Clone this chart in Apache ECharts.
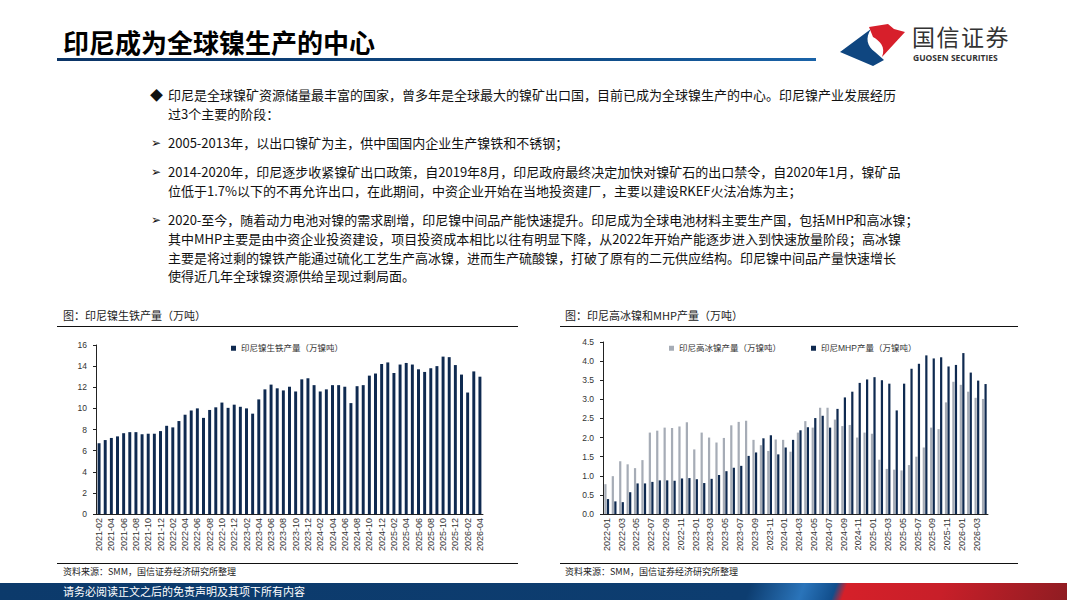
<!DOCTYPE html>
<html>
<head>
<meta charset="utf-8">
<script src="https://cdn.jsdelivr.net/npm/echarts@6/dist/echarts.min.js"></script>
<style>
  html, body { margin:0; padding:0; background:#fff; }
  #page { position:relative; width:1067px; height:600px; overflow:hidden; background:#fff;
          font-family:"Noto Sans CJK SC", sans-serif; color:#111; }
  #chart { position:absolute; left:0; top:0; width:1067px; height:600px; }
  .abs { position:absolute; white-space:nowrap; }
  .body { font-size:13px; line-height:18px; color:#111; }
  .title { left:63px; top:26px; font-size:26px; font-weight:bold; line-height:32px; color:#000; }
  .ctitle { font-size:11px; line-height:14px; color:#222; }
  .src { font-size:9px; line-height:12px; color:#222; }
  .hline { position:absolute; height:1px; background:#111; }
  .arrow { font-family:'DejaVu Sans',sans-serif; font-size:12px; }
</style>
</head>
<body>
<div id="page">
  <div id="chart"></div>

  <div class="abs title">印尼成为全球镍生产的中心</div>
  <div style="position:absolute;left:57px;top:58px;width:759px;height:3px;background:linear-gradient(to right,#0b3466,#0f4c88 70%,#1a63a8);"></div>

  <svg style="position:absolute;left:830px;top:18px" width="90" height="54" viewBox="830 18 90 54">
    <path d="M840,52 L871,29 C865,38 867,46 875,52 L884,60 L873,66 Z" fill="#0f4680"/>
    <path d="M869,27 L888,24 L894,29 L905,32 L882,57 C886,47 880,41 873,37 Z" fill="#d71f2b"/>
  </svg>
  <div class="abs" style="left:912px;top:22px;font-size:23px;line-height:28px;color:#333;letter-spacing:1.5px;">国信证券</div>
  <div class="abs" style="left:913px;top:53px;font-size:8.5px;line-height:10px;font-weight:bold;color:#333;font-family:'Open Sans','Liberation Sans',sans-serif;">GUOSEN SECURITIES</div>

  <div class="abs body" style="left:150px;top:86px;">◆</div>
  <div class="abs body" style="left:168px;top:86px;">印尼是全球镍矿资源储量最丰富的国家，曾多年是全球最大的镍矿出口国，目前已成为全球镍生产的中心。印尼镍产业发展经历</div>
  <div class="abs body" style="left:168px;top:105px;">过3个主要的阶段：</div>
  <div class="abs body arrow" style="left:151px;top:134px;">➢</div>
  <div class="abs body" style="left:168px;top:134px;">2005-2013年，以出口镍矿为主，供中国国内企业生产镍铁和不锈钢；</div>
  <div class="abs body arrow" style="left:151px;top:163px;">➢</div>
  <div class="abs body" style="left:168px;top:163px;">2014-2020年，印尼逐步收紧镍矿出口政策，自2019年8月，印尼政府最终决定加快对镍矿石的出口禁令，自2020年1月，镍矿品</div>
  <div class="abs body" style="left:168px;top:182px;">位低于1.7%以下的不再允许出口，在此期间，中资企业开始在当地投资建厂，主要以建设RKEF火法冶炼为主；</div>
  <div class="abs body arrow" style="left:151px;top:211px;">➢</div>
  <div class="abs body" style="left:168px;top:211px;">2020-至今，随着动力电池对镍的需求剧增，印尼镍中间品产能快速提升。印尼成为全球电池材料主要生产国，包括MHP和高冰镍；</div>
  <div class="abs body" style="left:168px;top:230px;">其中MHP主要是由中资企业投资建设，项目投资成本相比以往有明显下降，从2022年开始产能逐步进入到快速放量阶段；高冰镍</div>
  <div class="abs body" style="left:168px;top:249px;">主要是将过剩的镍铁产能通过硫化工艺生产高冰镍，进而生产硫酸镍，打破了原有的二元供应结构。印尼镍中间品产量快速增长</div>
  <div class="abs body" style="left:168px;top:267px;">使得近几年全球镍资源供给呈现过剩局面。</div>

  <div class="abs ctitle" style="left:63px;top:308px;">图：印尼镍生铁产量（万吨）</div>
  <div class="hline" style="left:57px;top:326px;width:461px;"></div>
  <div class="abs ctitle" style="left:565px;top:308px;">图：印尼高冰镍和MHP产量（万吨）</div>
  <div class="hline" style="left:560px;top:326px;width:458px;"></div>

  <div class="hline" style="left:57px;top:563px;width:461px;"></div>
  <div class="abs src" style="left:63px;top:566px;">资料来源：SMM，国信证券经济研究所整理</div>
  <div class="hline" style="left:560px;top:563px;width:458px;"></div>
  <div class="abs src" style="left:565px;top:566px;">资料来源：SMM，国信证券经济研究所整理</div>

  <div style="position:absolute;left:0;top:583px;width:1067px;height:17px;background:linear-gradient(110deg,#0c3a6b 0%,#0d3d70 70%,#2a74ba 75%,#114e8c 78%,#d52029 79%,#c81f29 88%,#8f1c22 100%);"></div>
  <div class="abs" style="left:63px;top:584px;font-size:11px;line-height:15px;color:#fff;">请务必阅读正文之后的免责声明及其项下所有内容</div>
</div>

<script>
// ---- Chart 1: 印尼镍生铁产量 (万镍吨), monthly 2021-02 .. 2026-04
var npiMonths = [
  '2021-02','2021-03','2021-04','2021-05','2021-06','2021-07','2021-08','2021-09','2021-10','2021-11','2021-12',
  '2022-01','2022-02','2022-03','2022-04','2022-05','2022-06','2022-07','2022-08','2022-09','2022-10','2022-11','2022-12',
  '2023-01','2023-02','2023-03','2023-04','2023-05','2023-06','2023-07','2023-08','2023-09','2023-10','2023-11','2023-12',
  '2024-01','2024-02','2024-03','2024-04','2024-05','2024-06','2024-07','2024-08','2024-09','2024-10','2024-11','2024-12',
  '2025-01','2025-02','2025-03','2025-04','2025-05','2025-06','2025-07','2025-08','2025-09','2025-10','2025-11','2025-12',
  '2026-01','2026-02','2026-03','2026-04'
];
var npiOutput = [
  6.7, 7.0, 7.2, 7.35, 7.65, 7.75, 7.75, 7.55, 7.6, 7.6, 7.85,
  8.35, 8.2, 8.8, 9.4, 9.8, 10.0, 9.1, 9.85, 10.1, 10.55, 10.05, 10.35,
  10.15, 10.0, 9.5, 10.85, 11.8, 12.25, 11.9, 11.7, 12.05, 11.6, 12.75, 12.85,
  12.2, 11.6, 11.8, 12.2, 12.2, 12.05, 10.5, 12.1, 12.2, 13.1, 13.3, 14.2,
  14.35, 13.35, 14.15, 14.3, 14.15, 13.7, 13.45, 13.8, 14.0, 14.9, 14.85, 14.1,
  13.2, 11.5, 13.5, 13.0
];
var npiTicks = [0, 2, 4, 6, 8, 10, 12, 14, 16];

// ---- Chart 2: 印尼高冰镍 / MHP 产量 (万镍吨), monthly 2022-01 .. 2026-04
var ihMonths = [
  '2022-01','2022-02','2022-03','2022-04','2022-05','2022-06','2022-07','2022-08','2022-09','2022-10','2022-11','2022-12',
  '2023-01','2023-02','2023-03','2023-04','2023-05','2023-06','2023-07','2023-08','2023-09','2023-10','2023-11','2023-12',
  '2024-01','2024-02','2024-03','2024-04','2024-05','2024-06','2024-07','2024-08','2024-09','2024-10','2024-11','2024-12',
  '2025-01','2025-02','2025-03','2025-04','2025-05','2025-06','2025-07','2025-08','2025-09','2025-10','2025-11','2025-12',
  '2026-01','2026-02','2026-03','2026-04'
];
var mattOutput = [
  0.78, 0.99, 1.38, 1.30, 1.20, 1.41, 2.13, 2.18, 2.26, 2.25, 2.29, 2.40,
  1.69, 2.13, 2.00, 1.87, 1.99, 2.32, 2.41, 2.44, 1.94, 1.80, 1.65, 1.95,
  1.94, 1.63, 2.13, 2.43, 2.26, 2.78, 2.78, 2.47, 2.30, 2.33, 2.00, 2.13,
  2.10, 1.42, 1.18, 1.16, 1.14, 1.28, 1.50, 1.74, 2.26, 2.22, 2.92, 3.46,
  3.38, 3.20, 3.04, 3.01
];
var mhpOutput = [
  0.39, 0.33, 0.31, 0.57, 0.80, 0.80, 0.84, 0.88, 0.88, 0.87, 0.93, 0.94,
  0.91, 0.81, 0.92, 1.02, 1.12, 1.21, 1.26, 1.52, 1.61, 1.98, 2.06, 1.56,
  1.74, 1.94, 2.19, 2.27, 2.51, 2.57, 2.26, 2.75, 3.05, 3.20, 3.43, 3.52,
  3.58, 3.50, 3.41, 2.71, 3.41, 3.80, 3.93, 4.15, 4.07, 4.10, 3.86, 3.90,
  4.21, 3.70, 3.49, 3.40
];
var ihTicks = [0, 0.5, 1, 1.5, 2, 2.5, 3, 3.5, 4, 4.5];

var NAVY = '#0f2a50';
var GRAY = '#a6acb6';
var FONT = '"Liberation Sans", "Noto Sans CJK SC", sans-serif';
var axisCol = '#222';

function xAx(gi, data) {
  return {
    type: 'category', gridIndex: gi, data: data,
    axisLine: { lineStyle: { color: axisCol, width: 1 } },
    axisTick: { interval: 0, length: 3, lineStyle: { color: axisCol } },
    axisLabel: { interval: 1, rotate: 90, fontSize: 9, color: '#333', margin: 4, fontFamily: FONT }
  };
}
function yAx(gi, ticks, fmt) {
  return {
    type: 'value', gridIndex: gi, min: ticks[0], max: ticks[ticks.length - 1],
    interval: ticks[1] - ticks[0],
    axisLine: { show: true, lineStyle: { color: axisCol, width: 1 } },
    axisTick: { show: true, length: 3, lineStyle: { color: axisCol } },
    splitLine: { show: false },
    axisLabel: { fontSize: 8.5, color: '#333', margin: 9, fontFamily: FONT, formatter: fmt }
  };
}

var chart = echarts.init(document.getElementById('chart'), null, { renderer: 'svg' });
chart.setOption({
  animation: false,
  textStyle: { fontFamily: FONT },
  legend: [
    { data: ['印尼镍生铁产量（万镍吨）'], left: 226, top: 339, icon: 'rect', itemWidth: 5, itemHeight: 5, itemGap: 30,
      textStyle: { fontSize: 8.5, color: '#333', fontFamily: FONT } },
    { data: ['印尼高冰镍产量（万镍吨）', '印尼MHP产量（万镍吨）'], left: 664, top: 339, icon: 'rect', itemWidth: 5, itemHeight: 5, itemGap: 30,
      textStyle: { fontSize: 8.5, color: '#333', fontFamily: FONT } }
  ],
  grid: [
    { left: 96, top: 345, width: 387, height: 169 },
    { left: 603, top: 342, width: 385, height: 172 }
  ],
  xAxis: [ xAx(0, npiMonths), xAx(1, ihMonths) ],
  yAxis: [
    yAx(0, npiTicks, function (v) { return String(v); }),
    yAx(1, ihTicks, function (v) { return v.toFixed(1); })
  ],
  series: [
    { name: '印尼镍生铁产量（万镍吨）', type: 'bar', xAxisIndex: 0, yAxisIndex: 0, data: npiOutput,
      barWidth: '48%', itemStyle: { color: NAVY } },
    { name: '印尼高冰镍产量（万镍吨）', type: 'bar', xAxisIndex: 1, yAxisIndex: 1, data: mattOutput,
      barWidth: '30%', barGap: '15%', itemStyle: { color: GRAY } },
    { name: '印尼MHP产量（万镍吨）', type: 'bar', xAxisIndex: 1, yAxisIndex: 1, data: mhpOutput,
      barWidth: '30%', barGap: '15%', itemStyle: { color: NAVY } }
  ]
});
</script>
</body>
</html>
